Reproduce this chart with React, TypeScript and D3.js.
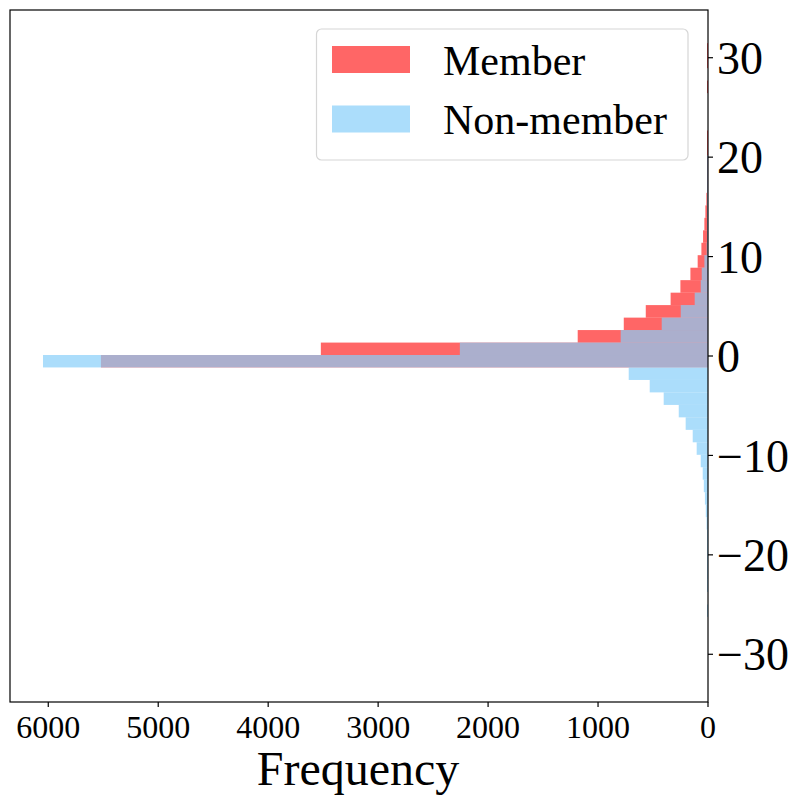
import React from 'react';
import * as d3 from 'd3';

// bin edges of the histogram (score), low to high
const binEdges = [
  -26.24, -24.99, -23.73, -22.48, -21.22, -19.97, -18.72, -17.46, -16.21, -14.95,
  -13.7, -12.44, -11.19, -9.94, -8.68, -7.43, -6.17, -4.92, -3.66, -2.41,
  -1.15, 0.1, 1.35, 2.61, 3.86, 5.12, 6.37, 7.63, 8.88, 10.14,
  11.39, 12.64, 13.9, 15.15, 16.41, 17.66, 18.92, 20.17, 21.42, 22.68,
  23.93, 25.19, 26.44, 27.7, 28.95, 30.21, 31.46,
];

// counts per bin (one less than the edges)
const memberCounts = [
  0, 0, 0, 0, 0, 0, 0, 0, 0, 0,
  0, 0, 0, 0, 0, 0, 0, 0, 0, 0,
  5521, 3521, 1185, 766, 566, 340, 251, 160, 94, 60,
  45, 33, 24, 15, 9, 5, 3, 2, 2, 0,
  0, 0, 1, 0, 1, 1,
];

const nonMemberCounts = [
  1, 0, 1, 2, 3, 5, 8, 13, 20, 28,
  38, 48, 66, 103, 139, 203, 266, 403, 530, 721,
  6048, 2257, 794, 421, 248, 121, 66, 57, 33, 12,
  7, 5, 3, 2, 2, 1, 1, 0, 0, 0,
  0, 0, 0, 0, 0, 0,
];

const xTicks = [6000, 5000, 4000, 3000, 2000, 1000, 0];
const yTicks = [30, 20, 10, 0, -10, -20, -30];

const series = [
  { name: 'Member', counts: memberCounts, color: 'rgb(255,0,0)', opacity: 0.6 },
  { name: 'Non-member', counts: nonMemberCounts, color: 'rgb(135,206,250)', opacity: 0.7 },
];

const W = 798;
const H = 806;
const plot = { left: 10, right: 708, top: 10, bottom: 702 };
const font = '"Liberation Serif", "DejaVu Serif", serif';

const App: React.FC = () => {
  const x = d3.scaleLinear().domain([6348, 0]).range([plot.left, plot.right]);
  const y = d3.scaleLinear().domain([-34.8, 34.8]).range([plot.bottom, plot.top]);

  const fmt = (v: number) => (v < 0 ? '\u2212' + Math.abs(v) : String(v));

  return (
    <svg width={W} height={H} style={{ position: 'absolute', left: 0, top: 0, background: '#fff' }}>
      <defs>
        <clipPath id="plot-clip">
          <rect x={plot.left} y={plot.top} width={plot.right - plot.left} height={plot.bottom - plot.top} />
        </clipPath>
      </defs>

      <g clipPath="url(#plot-clip)">
        {series.map((s) => (
          <g key={s.name} fill={s.color} fillOpacity={s.opacity}>
            {s.counts.map((c, i) => {
              if (c <= 0) return null;
              // tiny bins still show as a hairline, like the original render
              const w = Math.max(1, x(0) - x(c));
              return (
                <rect
                  key={i}
                  x={x(0) - w}
                  y={y(binEdges[i + 1])}
                  width={w}
                  height={y(binEdges[i]) - y(binEdges[i + 1])}
                />
              );
            })}
          </g>
        ))}
      </g>

      {/* frame */}
      <rect
        x={plot.left}
        y={plot.top}
        width={plot.right - plot.left}
        height={plot.bottom - plot.top}
        fill="none"
        stroke="#000"
        strokeWidth={1.2}
      />

      {/* bottom axis */}
      {xTicks.map((t) => (
        <g key={t} transform={`translate(${x(t)},${plot.bottom})`}>
          <line y2={5} stroke="#000" strokeWidth={1.2} />
          <text y={36} textAnchor="middle" fontFamily={font} fontSize={32}>
            {t}
          </text>
        </g>
      ))}
      <text x={358} y={785} textAnchor="middle" fontFamily={font} fontSize={48}>
        Frequency
      </text>

      {/* right axis */}
      {yTicks.map((t) => (
        <g key={t} transform={`translate(${plot.right},${y(t)})`}>
          <line x2={5} stroke="#000" strokeWidth={1.2} />
          <text x={9} dy="0.35em" fontFamily={font} fontSize={46}>
            {fmt(t)}
          </text>
        </g>
      ))}

      {/* legend */}
      <g>
        <rect x={316.5} y={29} width={371.5} height={131} rx={5} fill="#fff" fillOpacity={0.8} stroke="#d6d6d6" strokeWidth={1.2} />
        {series.map((s, i) => (
          <g key={s.name} transform={`translate(0,${i * 59.5})`}>
            <rect x={332} y={46} width={78} height={27} fill={s.color} fillOpacity={s.opacity} />
            <text x={443} y={74.5} fontFamily={font} fontSize={42}>
              {s.name}
            </text>
          </g>
        ))}
      </g>
    </svg>
  );
};

export default App;
